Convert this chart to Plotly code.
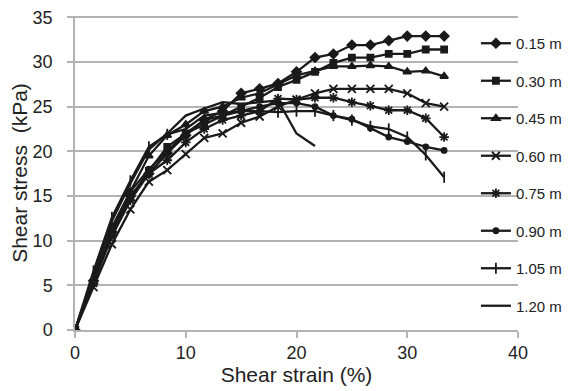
import plotly.graph_objects as go

strain = [0, 1.67, 3.33, 5.0, 6.67, 8.33, 10.0, 11.67, 13.33, 15.0, 16.67,
          18.33, 20.0, 21.67, 23.33, 25.0, 26.67, 28.33, 30.0, 31.67, 33.33]

depths = ["0.15 m", "0.30 m", "0.45 m", "0.60 m", "0.75 m", "0.90 m", "1.05 m", "1.20 m"]

s015 = [0, 5.5, 11.0, 15.0, 17.5, 19.8, 21.8, 23.5, 24.5, 26.5, 27.0, 27.6, 28.9, 30.5, 30.9, 31.9, 31.9, 32.4, 32.9, 32.9, 32.9]
s030 = [0, 5.3, 10.8, 14.8, 17.8, 20.5, 22.0, 23.0, 24.0, 25.0, 26.0, 27.2, 28.0, 28.9, 29.9, 30.5, 30.5, 30.9, 30.9, 31.4, 31.4]
s045 = [0, 5.6, 11.5, 15.5, 19.5, 21.8, 23.0, 24.5, 25.0, 26.0, 26.5, 27.5, 28.5, 29.0, 29.5, 29.5, 29.6, 29.5, 28.9, 29.0, 28.4]
s060 = [0, 4.8, 9.6, 13.5, 16.6, 17.9, 19.7, 21.5, 22.0, 23.2, 23.9, 25.0, 25.8, 26.5, 27.0, 27.0, 27.0, 27.0, 26.5, 25.4, 25.0]
s075 = [0, 5.2, 10.5, 14.5, 17.5, 19.0, 21.0, 22.5, 23.5, 24.0, 24.5, 25.9, 25.8, 26.0, 26.0, 25.5, 25.1, 24.6, 24.6, 23.7, 21.6]
s090 = [0, 5.5, 11.2, 15.5, 18.0, 20.0, 22.0, 23.5, 24.0, 24.5, 25.0, 25.4, 25.4, 25.0, 24.0, 23.6, 22.6, 21.6, 21.1, 20.5, 20.1]
s105 = [0, 6.6, 12.6, 16.7, 20.5, 21.9, 22.5, 24.0, 24.3, 24.5, 24.5, 24.4, 24.5, 24.5, 24.0, 23.5, 22.8, 22.5, 21.6, 19.6, 17.1]
s120 = [0, 6.2, 12.2, 16.4, 20.2, 22.0, 24.0, 24.8, 25.5, 25.3, 25.5, 25.7, 22.0, 20.6]

series = [s015, s030, s045, s060, s075, s090, s105, s120]
symbols = ["diamond", "square", "triangle-up", "x-thin-open", "asterisk-open",
           "circle", "line-ns-open", None]
sizes = [7, 6, 7, 8, 8, 5, 8, 0]

LINE = "#1a1a1a"
GRID = "#b3b3b3"

fig = go.Figure()
for name, ys, sym, sz in zip(depths, series, symbols, sizes):
    xs = strain[:len(ys)]
    if sym is None:
        fig.add_trace(go.Scatter(x=xs, y=ys, name=name, mode="lines",
                                 line=dict(color=LINE, width=2.3),
                                 legendgroup=name))
    else:
        fig.add_trace(go.Scatter(x=xs, y=ys, name=name, mode="lines+markers",
                                 line=dict(color=LINE, width=2.3),
                                 marker=dict(symbol=sym, size=sz, color=LINE,
                                             line=dict(color=LINE, width=1.8)),
                                 legendgroup=name))

# page body has an 8px margin, so the figure is sized/offset to compensate
fig.update_layout(
    width=567, height=383,
    margin=dict(l=67, r=55, t=8, b=61),
    paper_bgcolor="white", plot_bgcolor="white",
    font=dict(family="Liberation Sans, Arial, sans-serif", color="#222", size=18),
    showlegend=True,
    legend=dict(x=0.905, xanchor="left", y=0.965, yanchor="top",
                bgcolor="rgba(0,0,0,0)", font=dict(size=15, color="#222"),
                tracegroupgap=15, itemwidth=30),
    xaxis=dict(range=[0, 40], dtick=10, showgrid=False, zeroline=False,
               showline=True, linecolor=GRID, linewidth=1.5,
               ticks="outside", ticklen=6, tickcolor=GRID, tickwidth=1.5,
               automargin=False, ticklabeloverflow="allow",
               title=dict(text="Shear strain (%)", font=dict(size=21), standoff=2),
               tickfont=dict(size=18)),
    yaxis=dict(range=[0, 35.15], tickvals=[0, 5, 10, 15, 20, 25, 30, 35],
               showgrid=True, gridcolor=GRID, gridwidth=1.5,
               zeroline=False, showline=True, linecolor=GRID, linewidth=1.5,
               ticks="outside", ticklen=6, tickcolor=GRID, tickwidth=1.5,
               ticklabelstandoff=11, automargin=False, ticklabeloverflow="allow",
               title=dict(text="Shear stress  (kPa)", font=dict(size=21), standoff=0),
               tickfont=dict(size=18)),
)

fig.write_html("out.html")
